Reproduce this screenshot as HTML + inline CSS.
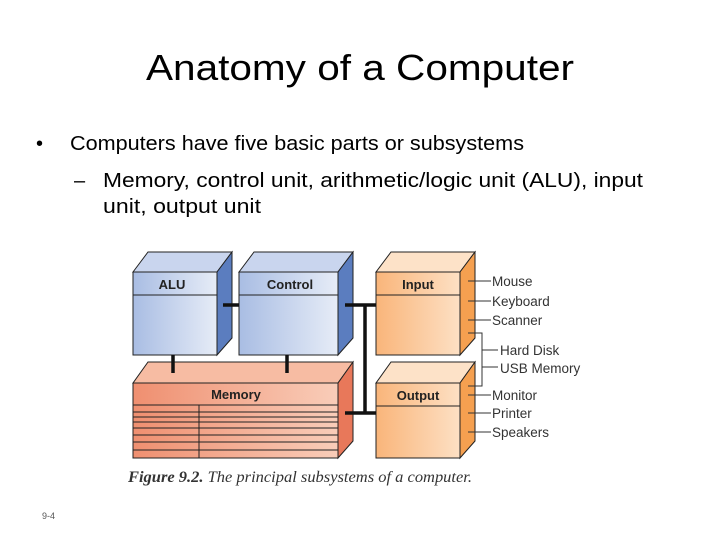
<!DOCTYPE html>
<html><head><meta charset="utf-8"><style>
html,body{margin:0;padding:0;background:#fff;}
svg{display:block;}
text{font-family:"Liberation Sans",sans-serif;}
</style></head><body>
<svg width="720" height="540" viewBox="0 0 720 540" xmlns="http://www.w3.org/2000/svg">
<defs>
<linearGradient id="bl" x1="0" y1="0" x2="1" y2="0"><stop offset="0" stop-color="#a9bde3"/><stop offset="1" stop-color="#e6ecf7"/></linearGradient>
<linearGradient id="or" x1="0" y1="0" x2="1" y2="0"><stop offset="0" stop-color="#f9b57a"/><stop offset="1" stop-color="#fde0c4"/></linearGradient>
<linearGradient id="rd" x1="0" y1="0" x2="1" y2="0"><stop offset="0" stop-color="#ef8f70"/><stop offset="1" stop-color="#f9cdb9"/></linearGradient>
</defs>
<text x="360" y="80" font-size="36" text-anchor="middle" textLength="428" lengthAdjust="spacingAndGlyphs" fill="#000">Anatomy of a Computer</text>
<text x="36" y="150" font-size="20" fill="#000">•</text>
<text x="70" y="150" font-size="20" textLength="454" lengthAdjust="spacingAndGlyphs">Computers have five basic parts or subsystems</text>
<text x="74" y="187" font-size="20">–</text>
<text x="103" y="187" font-size="20" textLength="540" lengthAdjust="spacingAndGlyphs">Memory, control unit, arithmetic/logic unit (ALU), input</text>
<text x="103" y="213" font-size="20" textLength="158" lengthAdjust="spacingAndGlyphs">unit, output unit</text>

<g stroke="#222" stroke-width="1">
<polygon points="133,272 148,252 232,252 217,272" fill="#c9d5ee"/>
<polygon points="217,272 232,252 232,338 217,355" fill="#5b7dbf"/>
<rect x="133" y="272" width="84" height="83" fill="url(#bl)"/>
<line x1="133" y1="295" x2="217" y2="295"/>
<polygon points="239,272 254,252 353,252 338,272" fill="#c9d5ee"/>
<polygon points="338,272 353,252 353,338 338,355" fill="#5b7dbf"/>
<rect x="239" y="272" width="99" height="83" fill="url(#bl)"/>
<line x1="239" y1="295" x2="338" y2="295"/>
<polygon points="376,272 391,252 475,252 460,272" fill="#fde2c8"/>
<polygon points="460,272 475,252 475,338 460,355" fill="#f5a050"/>
<rect x="376" y="272" width="84" height="83" fill="url(#or)"/>
<line x1="376" y1="295" x2="460" y2="295"/>
<polygon points="376,383 391,362 475,362 460,383" fill="#fde2c8"/>
<polygon points="460,383 475,362 475,441 460,458" fill="#f5a050"/>
<rect x="376" y="383" width="84" height="75" fill="url(#or)"/>
<line x1="376" y1="406" x2="460" y2="406"/>
<polygon points="133,383 148,362 353,362 338,383" fill="#f7bca3"/>
<polygon points="338,383 353,362 353,441 338,458" fill="#e8785a"/>
<rect x="133" y="383" width="205" height="75" fill="url(#rd)"/>
<line x1="133" y1="405" x2="338" y2="405"/>
<line x1="133" y1="412" x2="338" y2="412"/>
<line x1="133" y1="417" x2="338" y2="417"/>
<line x1="133" y1="422" x2="338" y2="422"/>
<line x1="133" y1="428" x2="338" y2="428"/>
<line x1="133" y1="435" x2="338" y2="435"/>
<line x1="133" y1="442" x2="338" y2="442"/>
<line x1="133" y1="450" x2="338" y2="450"/>
<line x1="199" y1="405" x2="199" y2="458"/>
</g>
<g stroke="#111" stroke-width="3.5">
<line x1="223" y1="305" x2="239" y2="305"/>
<line x1="345" y1="305" x2="376" y2="305"/>
<line x1="365" y1="305" x2="365" y2="413"/>
<line x1="345" y1="413" x2="376" y2="413"/>
<line x1="173" y1="355" x2="173" y2="373"/>
<line x1="287" y1="355" x2="287" y2="373"/>
</g>
<g font-weight="bold" font-size="13" fill="#222" text-anchor="middle">
<text x="172" y="289">ALU</text>
<text x="290" y="289">Control</text>
<text x="418" y="289">Input</text>
<text x="418" y="400">Output</text>
<text x="236" y="399">Memory</text>
</g>
<g stroke="#333" stroke-width="1">
<line x1="468" y1="281" x2="491" y2="281"/>
<line x1="468" y1="301" x2="491" y2="301"/>
<line x1="468" y1="320" x2="491" y2="320"/>
<polyline points="468,333 482,333 482,386 468,386" fill="none"/>
<line x1="482" y1="350" x2="498" y2="350"/>
<line x1="482" y1="367" x2="498" y2="367"/>
<line x1="468" y1="395" x2="491" y2="395"/>
<line x1="468" y1="413" x2="491" y2="413"/>
<line x1="468" y1="432" x2="491" y2="432"/>
</g>
<g font-size="13.5" fill="#333">
<text x="492" y="286">Mouse</text>
<text x="492" y="306">Keyboard</text>
<text x="492" y="325">Scanner</text>
<text x="500" y="355">Hard Disk</text>
<text x="500" y="373">USB Memory</text>
<text x="492" y="400">Monitor</text>
<text x="492" y="418">Printer</text>
<text x="492" y="437">Speakers</text>
</g>
<text x="128" y="482" style="font-family:'Liberation Serif',serif" font-size="16" fill="#333" textLength="344" lengthAdjust="spacingAndGlyphs"><tspan font-weight="bold" font-style="italic">Figure 9.2.</tspan><tspan font-style="italic"> The principal subsystems of a computer.</tspan></text>
<text x="42" y="519" font-size="9" fill="#555">9-4</text>
</svg>
</body></html>
